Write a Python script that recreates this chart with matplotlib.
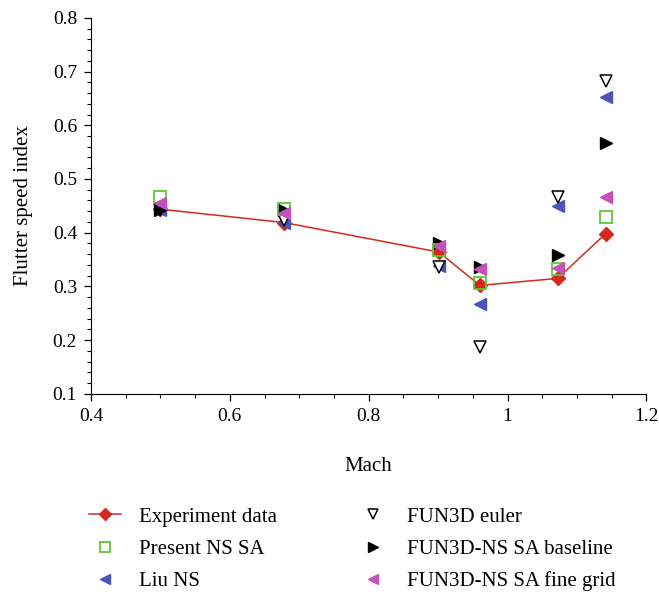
import matplotlib.pyplot as plt
from matplotlib.ticker import MultipleLocator

plt.rcParams["font.family"] = ["Liberation Serif", "DejaVu Serif"]

# Mach numbers of the test points
mach = [0.499, 0.678, 0.901, 0.960, 1.072, 1.141]

# Flutter speed index for each data set
experiment = [0.444, 0.419, 0.364, 0.302, 0.315, 0.398]
present_ns_sa = [0.467, 0.444, 0.368, 0.307, 0.333, 0.430]
liu_ns = [0.442, 0.418, 0.338, 0.267, 0.450, 0.653]
fun3d_euler = [0.443, 0.423, 0.336, 0.188, 0.467, 0.683]
fun3d_baseline = [0.442, 0.442, 0.380, 0.337, 0.359, 0.567]
fun3d_fine = [0.456, 0.437, 0.376, 0.332, 0.334, 0.467]

fig = plt.figure(figsize=(6.59, 5.92), dpi=100)
ax = fig.add_axes([0.138, 0.3345, 0.843, 0.6355])

h_exp, = ax.plot(mach, experiment, color="#d42a1e", lw=1.1, marker="D",
                 ms=7.5, mfc="#d42a1e", mec="#d42a1e", zorder=2)
h_liu, = ax.plot(mach, liu_ns, ls="none", marker="<", ms=9,
                 color="#4b54b8", zorder=3)
h_eul, = ax.plot(mach, fun3d_euler, ls="none", marker="v", ms=9,
                 mfc="white", mec="black", mew=1.1, zorder=3)
h_base, = ax.plot(mach, fun3d_baseline, ls="none", marker=">", ms=9,
                  color="black", zorder=4)
h_pres, = ax.plot(mach, present_ns_sa, ls="none", marker="s", ms=8,
                  mfc="none", mec="#5cc832", mew=1.3, zorder=5)
h_fine, = ax.plot(mach, fun3d_fine, ls="none", marker="<", ms=9,
                  color="#c552b8", zorder=6)

ax.set_xlim(0.4, 1.2)
ax.set_ylim(0.1, 0.8)
ax.xaxis.set_minor_locator(MultipleLocator(0.05))
ax.yaxis.set_minor_locator(MultipleLocator(0.02))
ax.set_xticks([0.4, 0.6, 0.8, 1.0, 1.2], ["0.4", "0.6", "0.8", "1", "1.2"])
ax.set_yticks([0.1, 0.2, 0.3, 0.4, 0.5, 0.6, 0.7, 0.8],
              ["0.1", "0.2", "0.3", "0.4", "0.5", "0.6", "0.7", "0.8"])

for side in ("top", "right"):
    ax.spines[side].set_visible(False)
ax.tick_params(which="major", direction="out", length=5, width=0.9,
               labelsize=14, pad=5)
ax.tick_params(which="minor", direction="out", length=3, width=0.8)

ax.set_xlabel("Mach", fontsize=15, labelpad=23)
ax.set_ylabel("Flutter speed index", fontsize=15, labelpad=14)

handles = [h_exp, h_pres, h_liu, h_eul, h_base, h_fine]
labels = ["Experiment data", "Present NS SA", "Liu NS", "FUN3D euler",
          "FUN3D-NS SA baseline", "FUN3D-NS SA fine grid"]
fig.legend(handles, labels, ncol=2, frameon=False, fontsize=15,
           loc="upper left", bbox_to_anchor=(0.106, 0.175),
           columnspacing=3.85, handlelength=1.55, handletextpad=0.85,
           labelspacing=0.6, markerscale=0.85)

fig.savefig("out.png", dpi=100)
